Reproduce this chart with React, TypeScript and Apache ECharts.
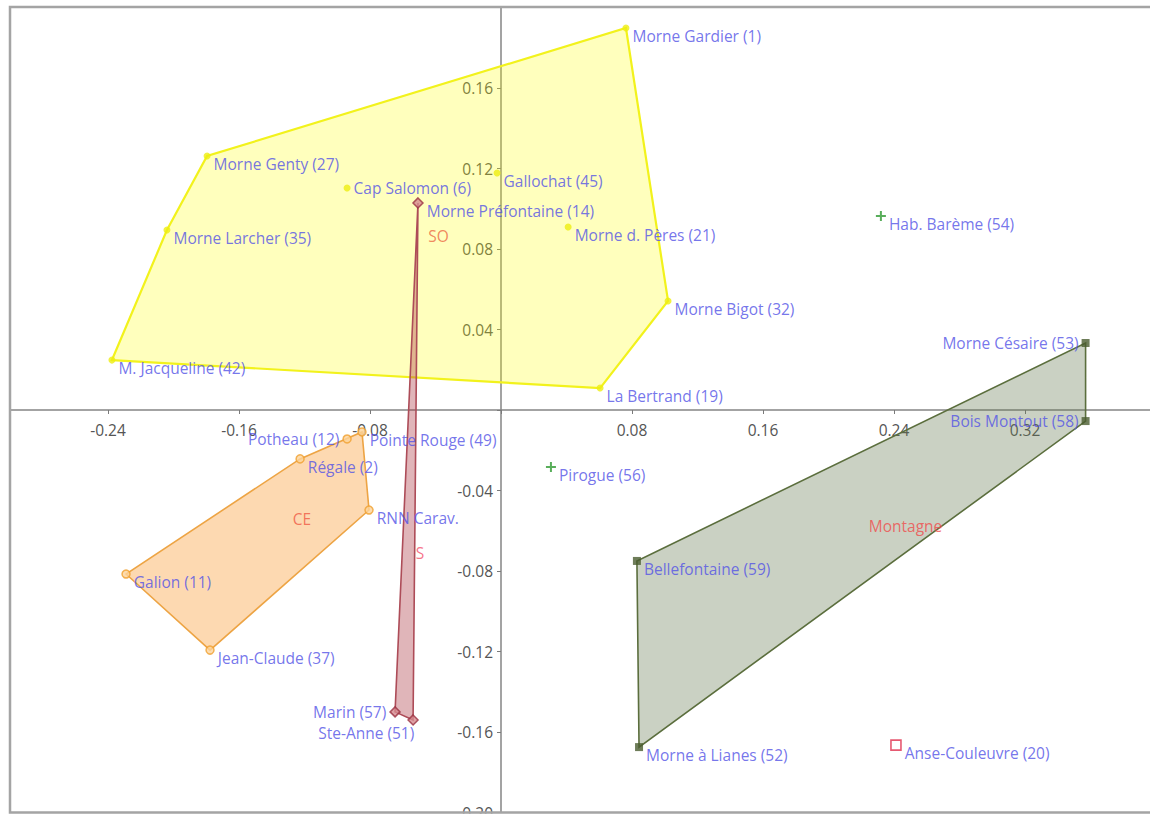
import React, { useEffect, useRef } from "react";
import * as echarts from "echarts";

// Sites projected on the first factorial plane (axis 1 horizontal, axis 2 vertical)
const soNames = [
  "Morne Gardier (1)", "Morne Genty (27)", "Morne Larcher (35)", "M. Jacqueline (42)",
  "Cap Salomon (6)", "Gallochat (45)", "Morne d. Pères (21)", "Morne Bigot (32)", "La Bertrand (19)",
];
const soX = [0.0763, -0.1795, -0.204, -0.2376, -0.094, -0.0024, 0.041, 0.102, 0.0605];
const soY = [0.1898, 0.1262, 0.0894, 0.0248, 0.1103, 0.1178, 0.0909, 0.0542, 0.0109];

const ceNames = ["Potheau (12)", "Pointe Rouge (49)", "Régale (2)", "RNN Carav.", "Galion (11)", "Jean-Claude (37)"];
const ceX = [-0.094, -0.0849, -0.1227, -0.0806, -0.229, -0.1777];
const ceY = [-0.0144, -0.0109, -0.0243, -0.0497, -0.0815, -0.1193];

const sNames = ["Morne Préfontaine (14)", "Marin (57)", "Ste-Anne (51)"];
const sX = [-0.0507, -0.0647, -0.0537];
const sY = [0.1029, -0.15, -0.154];

const montNames = ["Morne Césaire (53)", "Bois Montout (58)", "Bellefontaine (59)", "Morne à Lianes (52)"];
const montX = [0.357, 0.357, 0.083, 0.0843];
const montY = [0.0333, -0.0055, -0.075, -0.1675];

const plusNames = ["Hab. Barème (54)", "Pirogue (56)"];
const plusX = [0.232, 0.0305];
const plusY = [0.0964, -0.0283];

const squareNames = ["Anse-Couleuvre (20)"];
const squareX = [0.2412];
const squareY = [-0.1665];

// Axis ticks
const xMin = -0.32;
const xMax = 0.4;
const xStep = 0.08;
const yMin = -0.2;
const yMax = 0.2;
const yStep = 0.04;

// Plot area in chart pixels
const GRID_LEFT = 17;
const GRID_TOP = 7.5;
const GRID_W = 1179;
const GRID_H = 805;
// Axes are pushed inward so that they cross at the origin
const X_AXIS_OFFSET = -((yMax - 0) / (yMax - yMin)) * GRID_H;
const Y_AXIS_OFFSET = -((0 - xMin) / (xMax - xMin)) * GRID_W;

const FONT = "Open Sans";
const SITE_COLOR = "#5252e6";

// Labels that sit on the left of their marker (others go to the right, slightly lower)
const leftLabel: Record<string, number[]> = {
  "Morne Césaire (53)": [0, 0],
  "Bois Montout (58)": [0, 0],
  "Marin (57)": [0, 0],
  "Potheau (12)": [0, 0],
  "Ste-Anne (51)": [10, 13],
};
const levelLabel: Record<string, number[]> = {
  "Cap Salomon (6)": [0, 0],
};

function convexHull(pts: number[][]): number[][] {
  const p = pts.slice().sort((a, b) => (a[0] === b[0] ? a[1] - b[1] : a[0] - b[0]));
  const cross = (o: number[], a: number[], b: number[]) =>
    (a[0] - o[0]) * (b[1] - o[1]) - (a[1] - o[1]) * (b[0] - o[0]);
  const lower: number[][] = [];
  for (const q of p) {
    while (lower.length >= 2 && cross(lower[lower.length - 2], lower[lower.length - 1], q) <= 0) lower.pop();
    lower.push(q);
  }
  const upper: number[][] = [];
  for (let i = p.length - 1; i >= 0; i--) {
    const q = p[i];
    while (upper.length >= 2 && cross(upper[upper.length - 2], upper[upper.length - 1], q) <= 0) upper.pop();
    upper.push(q);
  }
  upper.pop();
  lower.pop();
  return lower.concat(upper);
}

function siteData(names: string[], xs: number[], ys: number[]) {
  return names.map((n, i) => {
    const left = leftLabel[n];
    const level = levelLabel[n];
    return {
      name: n,
      value: [xs[i], ys[i]],
      label: left
        ? { position: "left", offset: left }
        : { position: "right", offset: level || [0, 8] },
    };
  });
}

const siteLabel = {
  show: true,
  formatter: "{b}",
  color: SITE_COLOR,
  fontFamily: FONT,
  fontSize: 15.5,
  distance: 3,
};

interface Group {
  key: string;
  names: string[];
  xs: number[];
  ys: number[];
  fill: string;
  stroke: string;
  strokeWidth: number;
  labelColor: string;
  symbol: string;
  symbolSize: number;
  itemStyle: any;
}

const groups: Group[] = [
  {
    key: "SO", names: soNames, xs: soX, ys: soY,
    fill: "rgba(255,255,0,0.26)", stroke: "#f2f21c", strokeWidth: 2.2, labelColor: "#ec6a44",
    symbol: "circle", symbolSize: 7, itemStyle: { color: "#eded12" },
  },
  {
    key: "CE", names: ceNames, xs: ceX, ys: ceY,
    fill: "rgba(250,160,60,0.4)", stroke: "#eda444", strokeWidth: 1.6, labelColor: "#f05a44",
    symbol: "circle", symbolSize: 8, itemStyle: { color: "#fcd39a", borderColor: "#f0a030", borderWidth: 1.5 },
  },
  {
    key: "S", names: sNames, xs: sX, ys: sY,
    fill: "rgba(170,50,60,0.36)", stroke: "#ad4c58", strokeWidth: 1.6, labelColor: "#f4506c",
    symbol: "diamond", symbolSize: 10, itemStyle: { color: "#d68a8e", borderColor: "#9a3040", borderWidth: 1.5 },
  },
  {
    key: "Montagne", names: montNames, xs: montX, ys: montY,
    fill: "rgba(100,120,80,0.34)", stroke: "#5b6e3d", strokeWidth: 1.6, labelColor: "#f04c4c",
    symbol: "rect", symbolSize: 8, itemStyle: { color: "#4a5c30" },
  },
];

const PLUS = "path://M4,0H6V4H10V6H6V10H4V6H0V4H4Z";

function fmt(v: number, hide: number[]) {
  for (const h of hide) if (Math.abs(v - h) < 1e-9) return "";
  return v.toFixed(2);
}

export default function App() {
  const ref = useRef<HTMLDivElement>(null);

  useEffect(() => {
    if (!ref.current) return;
    const chart = echarts.init(ref.current, undefined, { renderer: "svg" });

    const series: any[] = [];

    groups.forEach((g, gi) => {
      const hull = convexHull(g.xs.map((x, i) => [x, g.ys[i]]));
      series.push({
        type: "custom",
        coordinateSystem: "cartesian2d",
        silent: true,
        z: 2 + gi * 0.01,
        data: [[0, 0]],
        renderItem: (_p: any, api: any) => ({
          type: "polygon",
          shape: { points: hull.map((p) => api.coord(p)) },
          style: { fill: g.fill, stroke: g.stroke, lineWidth: g.strokeWidth },
        }),
      });
    });

    groups.forEach((g) => {
      series.push({
        type: "scatter",
        symbol: g.symbol,
        symbolSize: g.symbolSize,
        itemStyle: g.itemStyle,
        z: 4,
        label: siteLabel,
        data: siteData(g.names, g.xs, g.ys),
      });
    });

    series.push({
      type: "scatter",
      symbol: PLUS,
      symbolSize: 10,
      itemStyle: { color: "#2f9a32" },
      z: 4,
      label: siteLabel,
      data: siteData(plusNames, plusX, plusY),
    });
    series.push({
      type: "scatter",
      symbol: "rect",
      symbolSize: 10,
      itemStyle: { color: "rgba(255,255,255,0)", borderColor: "#e0304e", borderWidth: 1.6 },
      z: 4,
      label: siteLabel,
      data: siteData(squareNames, squareX, squareY),
    });

    // Zone names at each zone's centre of gravity
    series.push({
      type: "scatter",
      symbolSize: 0,
      z: 5,
      silent: true,
      data: groups.map((g) => {
        const cx = g.xs.reduce((a, b) => a + b, 0) / g.xs.length;
        const cy = g.ys.reduce((a, b) => a + b, 0) / g.ys.length;
        return {
          name: g.key,
          value: [cx, cy],
          label: {
            show: true,
            formatter: "{b}",
            position: "right",
            distance: 7,
            offset: [0, 8],
            color: g.labelColor,
            fontFamily: FONT,
            fontSize: 15.5,
          },
        };
      }),
    });

    chart.setOption({
      animation: false,
      backgroundColor: "#ffffff",
      grid: {
        left: GRID_LEFT,
        top: GRID_TOP,
        width: GRID_W,
        height: GRID_H,
        containLabel: false,
        outerBoundsMode: "none",
      },
      xAxis: {
        type: "value",
        position: "bottom",
        offset: X_AXIS_OFFSET,
        min: xMin,
        max: xMax,
        interval: xStep,
        axisLine: { onZero: false, lineStyle: { color: "#858585", width: 1.5 } },
        axisTick: { show: true, length: 4, lineStyle: { color: "#7a7a7a" } },
        axisLabel: {
          formatter: (v: number) => fmt(v, [xMin, 0, xMax]),
          color: "#555555",
          fontFamily: FONT,
          fontSize: 15.5,
          margin: 12,
        },
        splitLine: { show: false },
      },
      yAxis: {
        type: "value",
        position: "left",
        offset: Y_AXIS_OFFSET,
        min: yMin,
        max: yMax,
        interval: yStep,
        axisLine: { onZero: false, lineStyle: { color: "#858585", width: 1.5 } },
        axisTick: { show: true, length: 4, lineStyle: { color: "#7a7a7a" } },
        axisLabel: {
          formatter: (v: number) => fmt(v, [0, yMax]),
          color: "#555555",
          fontFamily: FONT,
          fontSize: 15.5,
          margin: 8,
        },
        splitLine: { show: false },
      },
      graphic: [
        { type: "rect", z: 100, silent: true, shape: { x: 0, y: 0, width: 49, height: 830 }, style: { fill: "#ffffff" } },
        { type: "rect", z: 100, silent: true, shape: { x: 0, y: 813.5, width: 1300, height: 30 }, style: { fill: "#ffffff" } },
        {
          type: "rect", z: 101, silent: true,
          shape: { x: 50, y: 7, width: 1250, height: 805.5 },
          style: { fill: "none", stroke: "#a4a4a4", lineWidth: 2.5 },
        },
      ],
      series,
    });

    return () => chart.dispose();
  }, []);

  return (
    <div style={{ position: "absolute", left: 0, top: 0, width: 1150, height: 818, overflow: "hidden", background: "#fff" }}>
      <div ref={ref} style={{ position: "absolute", left: -40, top: 0, width: 1240, height: 818 }} />
    </div>
  );
}
